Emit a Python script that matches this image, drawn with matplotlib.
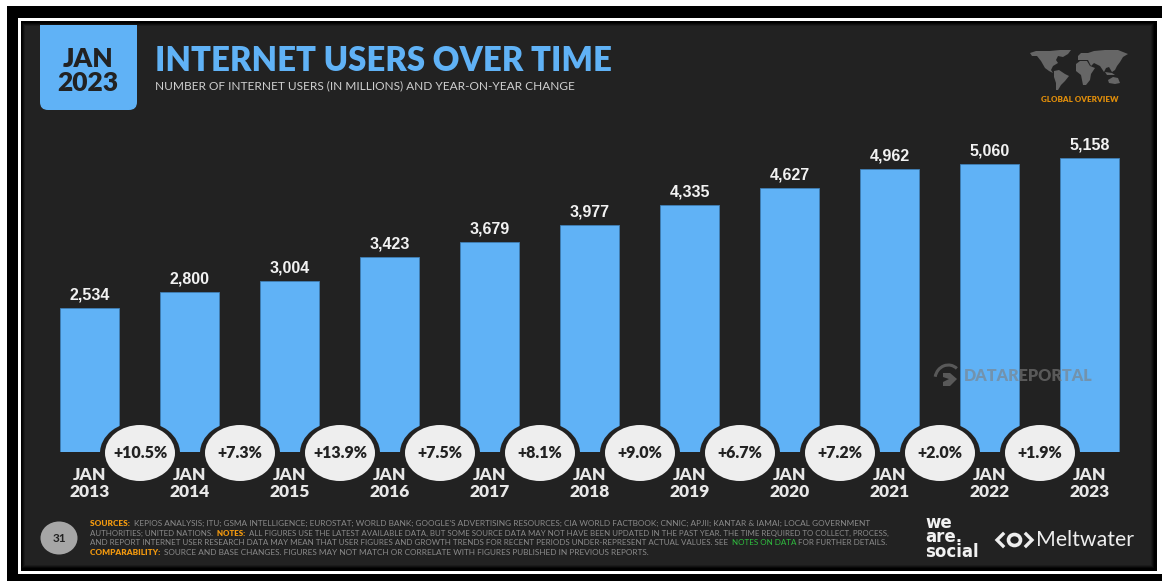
import matplotlib
matplotlib.use('Agg')
import matplotlib.pyplot as plt
from matplotlib.patches import Rectangle, FancyBboxPatch, Ellipse, Polygon, Arc

W, H = 1162, 581

# chart values
years = ['2013', '2014', '2015', '2016', '2017', '2018', '2019', '2020', '2021', '2022', '2023']
users = [2534, 2800, 3004, 3423, 3679, 3977, 4335, 4627, 4962, 5060, 5158]
yoy_change = ['+10.5%', '+7.3%', '+13.9%', '+7.5%', '+8.1%', '+9.0%', '+6.7%', '+7.2%', '+2.0%', '+1.9%']

# footer text, one entry per printed line as (text, colour) runs
GREY_TXT = '#8a8a8a'
ORANGE = '#f2990f'
footer_lines = [
    [('SOURCES: ', ORANGE),
     ("KEPIOS ANALYSIS; ITU; GSMA INTELLIGENCE; EUROSTAT; WORLD BANK; GOOGLE'S ADVERTISING RESOURCES; CIA WORLD FACTBOOK; CNNIC; APJII; KANTAR & IAMAI; LOCAL GOVERNMENT", GREY_TXT)],
    [('AUTHORITIES; UNITED NATIONS. ', GREY_TXT), ('NOTES: ', ORANGE),
     ('ALL FIGURES USE THE LATEST AVAILABLE DATA, BUT SOME SOURCE DATA MAY NOT HAVE BEEN UPDATED IN THE PAST YEAR. THE TIME REQUIRED TO COLLECT, PROCESS,', GREY_TXT)],
    [('AND REPORT INTERNET USER RESEARCH DATA MAY MEAN THAT USER FIGURES AND GROWTH TRENDS FOR RECENT PERIODS UNDER-REPRESENT ACTUAL VALUES. SEE ', GREY_TXT),
     ('NOTES ON DATA', '#2fbf3f'), (' FOR FURTHER DETAILS.', GREY_TXT)],
    [('COMPARABILITY: ', ORANGE),
     ('SOURCE AND BASE CHANGES. FIGURES MAY NOT MATCH OR CORRELATE WITH FIGURES PUBLISHED IN PREVIOUS REPORTS.', GREY_TXT)],
]
footer_sizes = [5.92, 5.65, 5.72, 5.95]

# rough continent outlines for the small world map
continents = [
    [(1030, 53), (1036, 51), (1050, 51), (1060, 50), (1071, 50), (1068, 54), (1063, 57), (1058, 56), (1056, 60),
     (1058, 63), (1053, 66), (1051, 70), (1053, 73), (1049, 71), (1045, 68), (1041, 61), (1037, 56), (1032, 56)],
    [(1054, 71), (1059, 70), (1065, 74), (1069, 76), (1065, 81), (1061, 85), (1058, 90), (1056, 90), (1056, 83), (1054, 77)],
    [(1078, 56), (1081, 53), (1088, 53), (1094, 51), (1105, 50), (1118, 50), (1128, 54), (1123, 57), (1120, 62),
     (1117, 66), (1115, 70), (1112, 72), (1109, 67), (1106, 68), (1104, 72), (1100, 66), (1094, 63), (1091, 66),
     (1088, 60), (1082, 60), (1078, 60)],
    [(1076, 64), (1080, 61), (1087, 61), (1090, 66), (1095, 68), (1091, 74), (1090, 80), (1086, 85), (1083, 85),
     (1081, 75), (1076, 71)],
    [(1108, 80), (1113, 77), (1118, 78), (1120, 83), (1115, 84), (1109, 83)],
    [(1105, 72), (1112, 73), (1115, 75), (1107, 75)],
]

BG = '#222222'
BLUE = '#60b2f6'
LIGHT = '#eeeeee'

plt.rcParams['font.family'] = ['Lato', 'DejaVu Sans']

fig = plt.figure(figsize=(W / 100, H / 100), dpi=100, facecolor='white')

# full-figure overlay in pixel coordinates for the frame and decoration
bg = fig.add_axes([0, 0, 1, 1], zorder=0)
bg.set_xlim(0, W)
bg.set_ylim(H, 0)
bg.axis('off')

bg.add_patch(Rectangle((7, 6), W - 7, H - 6, fc='black', ec='none'))
bg.add_patch(Rectangle((18, 18), W - 18, 556, fc='white', ec='none'))
bg.add_patch(Rectangle((21, 21), 1136, 550, fc='black', ec='none'))
# soft dark edge around the panel
for inset, alpha in [(0, 0.25), (1, 0.4), (2, 0.6), (3, 1.0)]:
    bg.add_patch(Rectangle((22 + inset, 23 + inset), 1132 - 2 * inset, 545 - 2 * inset,
                           fc=BG, ec='none', alpha=alpha))

# bars on their own axes: baseline at y=452px, 100px per category
px_per_user = (452 - 158) / 5158
ax = fig.add_axes([39.5 / W, 1 - 452 / H, 1100 / W, 5500 * px_per_user / H], zorder=1)
ax.patch.set_alpha(0)
ax.bar(range(len(users)), users, width=0.59, color=BLUE, edgecolor='#3f7fb5', linewidth=0.6)
ax.set_xlim(-0.5, 10.5)
ax.set_ylim(0, 5500)
ax.axis('off')
for i, v in enumerate(users):
    ax.annotate(f'{v:,}', (i, v), xytext=(0, 4), textcoords='offset points', ha='center', va='bottom',
                color='#f2f2f2', fontsize=11.5, fontweight='bold', family='Liberation Sans',
                annotation_clip=False)

fg = fig.add_axes([0, 0, 1, 1], zorder=2)
fg.set_xlim(0, W)
fg.set_ylim(H, 0)
fg.axis('off')
fg.patch.set_alpha(0)

# year-on-year change discs and date labels
for i, label in enumerate(yoy_change):
    cx = 140 + 100 * i
    fg.add_patch(Ellipse((cx, 453), 80, 63, fc=BG, ec='none'))
    fg.add_patch(Ellipse((cx, 453), 70, 56, fc=LIGHT, ec='none'))
    fg.text(cx, 453, label, ha='center', va='center', color='#222222', fontsize=11.5, fontweight='heavy')
for i, y in enumerate(years):
    cx = 90 + 100 * i
    fg.text(cx, 475, 'JAN', ha='center', va='center', color='#e8e8e8', fontsize=12.5, fontweight='heavy')
    fg.text(cx, 492, y, ha='center', va='center', color='#e8e8e8', fontsize=12.5, fontweight='heavy')

# header badge, cut off square by the top of the panel
badge = FancyBboxPatch((40, 5), 97, 105, boxstyle='round,pad=0,rounding_size=8', fc=BLUE, ec='none')
fg.add_patch(badge)
badge.set_clip_path(Rectangle((30, 25), 120, 100, transform=fg.transData))
fg.text(88, 59, 'JAN', ha='center', va='center', color='#222222', fontsize=19, fontweight='heavy')
fg.text(88, 83, '2023', ha='center', va='center', color='#222222', fontsize=19, fontweight='heavy')
fg.text(155, 61, 'INTERNET USERS OVER TIME', ha='left', va='center', color=BLUE, fontsize=23.7, fontweight='heavy')
fg.text(155, 86, 'NUMBER OF INTERNET USERS (IN MILLIONS) AND YEAR-ON-YEAR CHANGE', ha='left', va='center',
        color='#d0d0d0', fontsize=8.6)

# world map
for outline in continents:
    fg.add_patch(Polygon(outline, closed=True, fc='#666666', ec='none'))
fg.text(1080, 99, 'GLOBAL OVERVIEW', ha='center', va='center', color='#e08e0b', fontsize=5.8, fontweight='heavy')

# watermark
WM = '#7f7f7f'
fg.text(964, 376, 'DATAREPORTAL', ha='left', va='center', color=WM, alpha=0.6, fontsize=11.6, fontweight='heavy')
fg.add_patch(Polygon([(943, 373), (950, 373), (957, 379), (950, 386), (943, 386), (943, 382), (949, 379), (943, 377)],
                     closed=True, fc=WM, alpha=0.6, ec='none'))
fg.add_patch(Arc((948, 379), 28, 26, theta1=270, theta2=30, ec=WM, alpha=0.6, lw=2.2, angle=-80))

# footer
fg.add_patch(Ellipse((59, 538), 37, 33, fc='#a6a6a6', ec='none'))
fg.text(59, 538, '31', ha='center', va='center', color='#222222', fontsize=8.5, fontweight='bold')

renderer = fig.canvas.get_renderer()
for row, runs in enumerate(footer_lines):
    x = 90
    y = 523.5 + row * 9.7
    for txt, col in runs:
        heavy = col == ORANGE
        t = fg.text(x, y, txt, ha='left', va='center', color=col, fontsize=footer_sizes[row],
                    fontweight='heavy' if heavy else 'normal')
        # trailing spaces are not measured, so pad with a fixed space width
        bb = t.get_window_extent(renderer)
        x += bb.width + (2.0 if txt.endswith(' ') else 0)

# logos
fg.text(925, 537.5, 'we\nare.\nsocial', ha='left', va='center', color='#f2f2f2', fontsize=12, fontweight='bold',
        family='DejaVu Sans', linespacing=0.72)
fg.text(1036, 540, 'Meltwater', ha='left', va='center', color='#eeeeee', fontsize=15.3)
fg.plot([1003, 997, 1003], [534, 540, 546], color='#eeeeee', lw=2.4, solid_joinstyle='miter')
fg.plot([1026, 1032, 1026], [534, 540, 546], color='#eeeeee', lw=2.4, solid_joinstyle='miter')
fg.add_patch(Ellipse((1014.5, 540), 12, 11, fc='none', ec='#eeeeee', lw=2.6))

fig.savefig('out.png', dpi=100, facecolor='white')
